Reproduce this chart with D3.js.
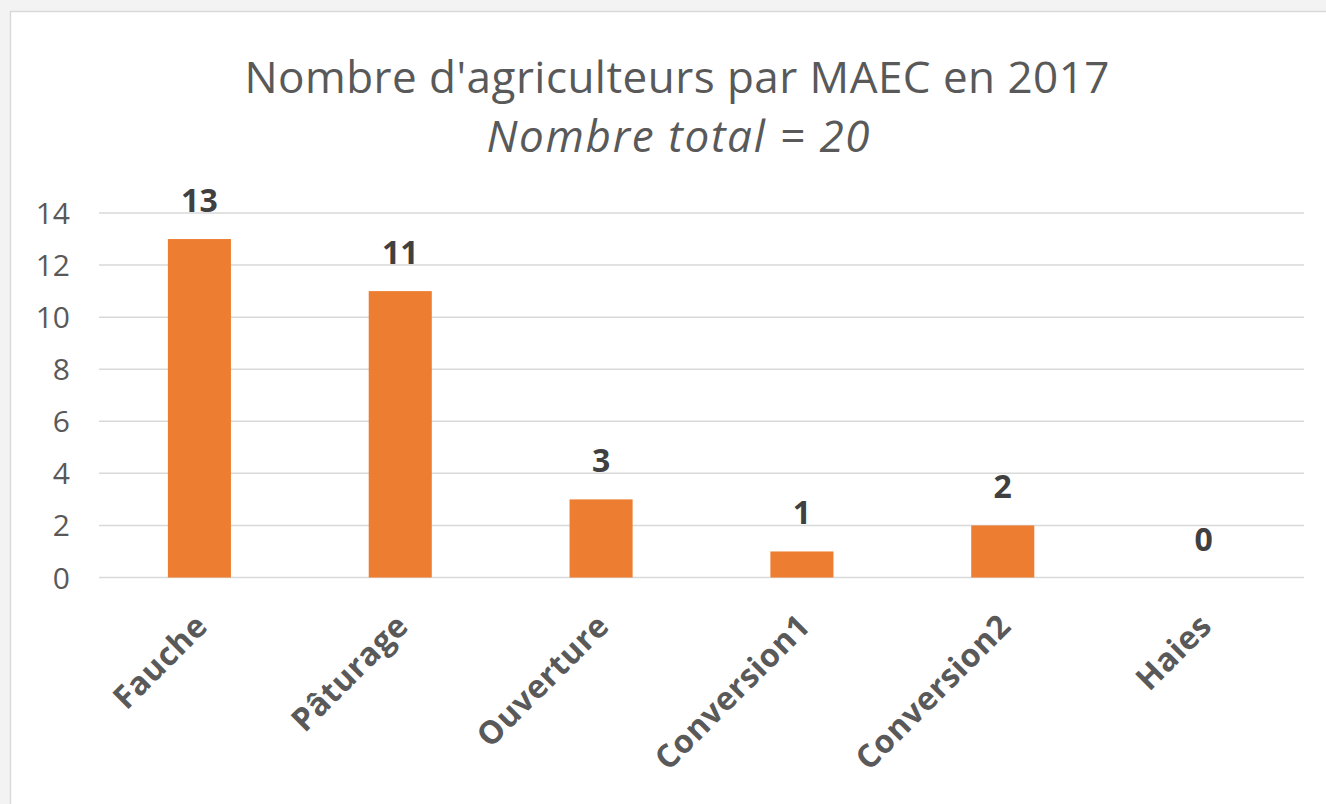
<!DOCTYPE html>
<html>
<head>
<meta charset="utf-8">
<script src="https://cdn.jsdelivr.net/npm/d3@7"></script>
<style>
  html, body { margin: 0; padding: 0; background: #f3f3f3; }
  #chart { width: 1326px; height: 804px; }
  text { font-family: "Open Sans", sans-serif; }
</style>
</head>
<body>
<div id="chart"></div>
<script>
const categories = ['Fauche', 'Pâturage', 'Ouverture', 'Conversion1', 'Conversion2', 'Haies'];
const values = [13, 11, 3, 1, 2, 0];
const yTicks = [0, 2, 4, 6, 8, 10, 12, 14];
const titleLine1 = "Nombre d'agriculteurs par MAEC en 2017";
const titleLine2 = 'Nombre total = 20';

const width = 1326;
const height = 804;

const svg = d3.select('#chart')
    .append('svg')
    .attr('width', width)
    .attr('height', height);

// chart area frame
svg.append('rect')
    .attr('x', 10.5)
    .attr('y', 11.5)
    .attr('width', width)
    .attr('height', height)
    .attr('fill', '#ffffff')
    .attr('stroke', '#d9d9d9')
    .attr('stroke-width', 1.5);

const x = d3.scaleBand()
    .domain(categories)
    .range([99, 1304])
    .paddingInner(0.686)
    .paddingOuter(0.343);

const y = d3.scaleLinear()
    .domain([0, 14])
    .range([577.5, 213]);

// gridlines
svg.append('g')
    .selectAll('line')
    .data(yTicks)
    .join('line')
    .attr('x1', 99)
    .attr('x2', 1304)
    .attr('y1', d => y(d))
    .attr('y2', d => y(d))
    .attr('stroke', '#d9d9d9')
    .attr('stroke-width', 1.5);

// y axis labels
const yAxis = svg.append('g')
    .attr('transform', 'translate(70,0)')
    .call(d3.axisLeft(y).tickValues(yTicks).tickSize(0).tickPadding(0));
yAxis.select('.domain').remove();
yAxis.selectAll('text')
    .attr('font-family', '"Open Sans", sans-serif')
    .attr('font-size', '30px')
    .attr('fill', '#595959')
    .attr('dy', '0.35em');

// bars
svg.append('g')
    .selectAll('rect')
    .data(values)
    .join('rect')
    .attr('x', (d, i) => x(categories[i]))
    .attr('y', d => y(d))
    .attr('width', x.bandwidth())
    .attr('height', d => y(0) - y(d))
    .attr('fill', '#ed7d31');

// value labels
svg.append('g')
    .selectAll('text')
    .data(values)
    .join('text')
    .attr('x', (d, i) => x(categories[i]) + x.bandwidth() / 2)
    .attr('y', d => y(d) - 27)
    .attr('text-anchor', 'middle')
    .attr('font-size', '32px')
    .attr('font-weight', 'bold')
    .attr('fill', '#404040')
    .text(d => d);

// category labels
svg.append('g')
    .selectAll('text')
    .data(categories)
    .join('text')
    .attr('transform', d => `translate(${x(d) + x.bandwidth() / 2 + 10},628) rotate(-45)`)
    .attr('text-anchor', 'end')
    .attr('font-size', '32px')
    .attr('font-weight', 'bold')
    .attr('letter-spacing', '0.5px')
    .attr('fill', '#595959')
    .text(d => d);

// title
svg.append('text')
    .attr('x', 677)
    .attr('y', 93)
    .attr('text-anchor', 'middle')
    .attr('font-size', '44px')
    .attr('textLength', 865)
    .attr('lengthAdjust', 'spacing')
    .attr('fill', '#595959')
    .text(titleLine1);

svg.append('text')
    .attr('x', 678)
    .attr('y', 152)
    .attr('text-anchor', 'middle')
    .attr('font-size', '44px')
    .attr('font-style', 'italic')
    .attr('textLength', 383)
    .attr('lengthAdjust', 'spacing')
    .attr('fill', '#595959')
    .text(titleLine2);
</script>
</body>
</html>
